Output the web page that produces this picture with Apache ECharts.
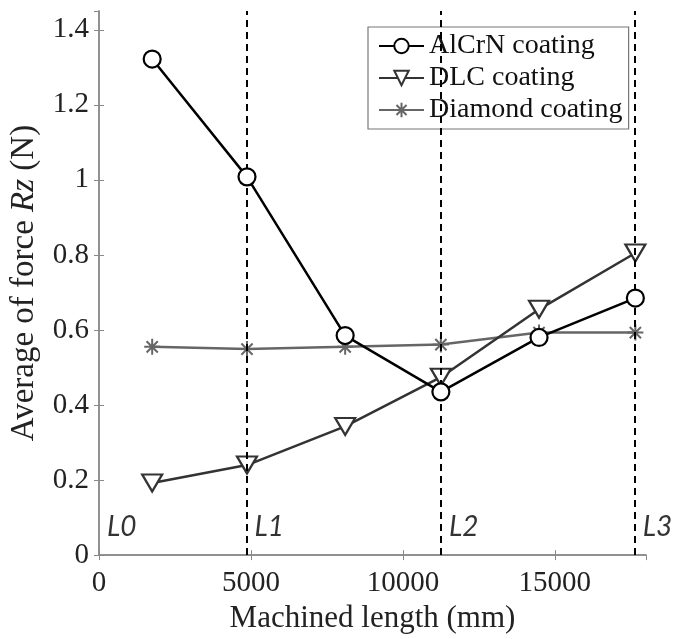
<!DOCTYPE html>
<html>
<head>
<meta charset="utf-8">
<script src="https://cdn.jsdelivr.net/npm/echarts@6/dist/echarts.min.js"></script>
<style>
html, body { margin: 0; padding: 0; background: #fff; }
#main { width: 680px; height: 639px; }
</style>
</head>
<body>
<div id="main"></div>
<script>
// 数据
var machinedLength = [1750, 4870, 8100, 11250, 14480, 17650];
var alcrnForce = [1.322, 1.008, 0.585, 0.435, 0.58, 0.685];
var dlcForce = [0.192, 0.24, 0.343, 0.474, 0.655, 0.805];
var diamondForce = [0.555, 0.549, 0.555, 0.561, 0.593, 0.593];
var seriesNames = ['AlCrN coating', 'DLC coating', 'Diamond coating'];
var stageNames = ['L0', 'L1', 'L2', 'L3'];
var stageStart = [0, 4850, 11250, 17630];
var stageLabelY = 0.075;

var serif = 'Liberation Serif';
var axisGray = '#8a8a8a';
var starPath = 'path://M0,-10L0,10M-10,0L10,0M-7,-7L7,7M-7,7L7,-7';

function pairs(xs, ys) {
    return xs.map(function(x, i) { return [x, ys[i]]; });
}

var chart = echarts.init(document.getElementById('main'));

var baseX = {
    type: 'value', min: 0, max: 18000, interval: 5000,
    axisLine: { lineStyle: { color: axisGray, width: 1.5 } },
    axisTick: { inside: true, length: 5, lineStyle: { color: axisGray } },
    splitLine: { show: false }
};
var baseY = {
    type: 'value', min: 0, max: 1.45, interval: 0.2,
    axisLine: { lineStyle: { color: axisGray, width: 1.5 } },
    axisTick: { inside: true, length: 5, lineStyle: { color: axisGray } },
    splitLine: { show: false }
};

// 分段虚线（L1、L2、L3）
var stageLines = stageStart.slice(1).map(function(x) {
    return { xAxis: x };
});

option = {
    animation: false,
    backgroundColor: '#fff',
    grid: { left: 99, right: 34, top: 11, bottom: 82, containLabel: false },
    legend: {
        data: seriesNames,
        left: 368, top: 27,
        orient: 'vertical',
        padding: [5, 6, 5, 10],
        itemWidth: 45, itemHeight: 18, itemGap: 4,
        backgroundColor: '#fff',
        borderColor: '#777', borderWidth: 1.2,
        textStyle: { fontFamily: serif, fontSize: 28, color: '#111', lineHeight: 28 }
    },
    xAxis: [
        Object.assign({}, baseX, {
            position: 'bottom',
            name: 'Machined length (mm)',
            nameLocation: 'middle',
            nameGap: 40,
            nameTextStyle: { fontFamily: serif, fontSize: 31, color: '#222' },
            axisLabel: {
                fontFamily: serif, fontSize: 29, color: '#222', margin: 14, showMaxLabel: false,
                formatter: function(v) { return String(v); }
            }
        }),
        Object.assign({}, baseX, { position: 'top', axisLabel: { show: false } })
    ],
    yAxis: [
        Object.assign({}, baseY, {
            position: 'left',
            name: 'Average of force {i|Rz} (N)',
            nameLocation: 'middle',
            nameGap: 58,
            nameTextStyle: {
                fontFamily: serif, fontSize: 33, color: '#222',
                rich: { i: { fontFamily: serif, fontSize: 33, fontStyle: 'italic', color: '#222' } }
            },
            axisLabel: {
                fontFamily: serif, fontSize: 29, color: '#222', margin: 10, showMaxLabel: false,
                formatter: function(v) { return String(Math.round(v * 10) / 10); }
            }
        }),
        Object.assign({}, baseY, { position: 'right', axisLabel: { show: false } })
    ],
    series: [
        {
            name: 'stageLabels',
            type: 'scatter',
            symbolSize: 0,
            clip: false,
            silent: true,
            data: stageStart.map(function(x, i) { return { value: [x, stageLabelY], name: stageNames[i] }; }),
            label: {
                show: true, position: 'right', distance: 8,
                formatter: '{b}',
                fontFamily: 'Lato', fontStyle: 'italic', fontSize: 28, color: '#000'
            },
            markLine: {
                symbol: 'none',
                silent: true,
                label: { show: false },
                lineStyle: { color: '#000', width: 2, type: [7, 5] },
                data: stageLines
            }
        },
        {
            name: seriesNames[2],
            type: 'line',
            data: pairs(machinedLength, diamondForce),
            symbol: starPath,
            symbolSize: 16,
            lineStyle: { color: '#666', width: 2.5 },
            itemStyle: { color: '#666', borderColor: '#666', borderWidth: 2 },
            z: 3
        },
        {
            name: seriesNames[1],
            type: 'line',
            data: pairs(machinedLength, dlcForce),
            symbol: 'triangle',
            symbolRotate: 180,
            symbolSize: [20, 17],
            showAllSymbol: true,
            lineStyle: { color: '#333', width: 2.5 },
            itemStyle: { color: '#fff', borderColor: '#333', borderWidth: 2.2 },
            z: 4
        },
        {
            name: seriesNames[0],
            type: 'line',
            data: pairs(machinedLength, alcrnForce),
            symbol: 'circle',
            symbolSize: 17,
            showAllSymbol: true,
            lineStyle: { color: '#000', width: 2.5 },
            itemStyle: { color: '#fff', borderColor: '#000', borderWidth: 2.2 },
            z: 5
        }
    ]
};

chart.setOption(option);
</script>
</body>
</html>
